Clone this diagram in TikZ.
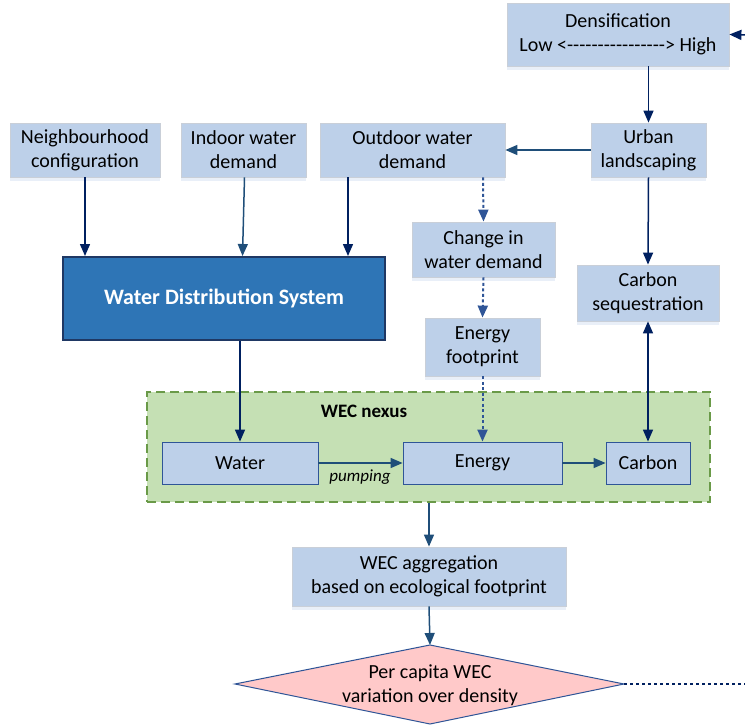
\documentclass[tikz,border=0pt]{standalone}
\usepackage{fontspec}
\setmainfont{Carlito}
\usetikzlibrary{arrows.meta,shadows}
\definecolor{boxfill}{HTML}{BDD0E9}
\definecolor{boxline}{HTML}{C9CFD8}
\definecolor{shade}{HTML}{E9EFF8}
\definecolor{wdsfill}{HTML}{2E75B6}
\definecolor{wdsline}{HTML}{1F3864}
\definecolor{navy}{HTML}{002060}
\definecolor{steel}{HTML}{1F4E79}
\definecolor{midblue}{HTML}{2F5597}
\definecolor{nexusfill}{HTML}{C5E0B4}
\definecolor{nexusline}{HTML}{6A9A48}
\definecolor{pinkfill}{HTML}{FFC9C9}
\newcommand{\dashrun}{-{}-{}-{}-{}-{}-{}-{}-{}-{}-{}-{}-{}-{}-{}-{}-{}}
\begin{document}
\begin{tikzpicture}[x=1pt,y=-1pt,
  font=\fontsize{20}{24}\selectfont,
  lbox/.style={draw=boxline,line width=0.8pt,fill=boxfill,align=center,inner sep=0pt,
    drop shadow={shadow xshift=0pt,shadow yshift=-4pt,fill=shade,opacity=1}},
  nbox/.style={draw=midblue,line width=0.8pt,fill=boxfill,align=center,inner sep=0pt},
  tip/.style={-{Triangle[length=12pt,width=10pt]}},
  solidnavy/.style={tip,draw=navy,line width=1.5pt},
  solidsteel/.style={tip,draw=steel,line width=1.5pt},
  dotblue/.style={tip,draw=midblue,line width=2pt,dash pattern=on 3pt off 2.5pt}]
\useasboundingbox (0,0) rectangle (745,725);

% top row of factors
\node[lbox,minimum width=222pt,minimum height=63pt] (dens) at (618,34.5)
  {Densification\\Low <\dashrun> High};
\node[lbox,minimum width=115pt,minimum height=54pt] (urban) at (648.5,150)
  {Urban\\landscaping};
\node[lbox,minimum width=185pt,minimum height=54pt] (outdoor) at (412.5,150)
  {Outdoor water\\demand};
\node[lbox,minimum width=125pt,minimum height=54pt] (indoor) at (243.5,150)
  {Indoor water\\demand};
\node[lbox,minimum width=150pt,minimum height=54pt] (neigh) at (85,150)
  {Neighbourhood\\configuration};

% water distribution system
\node[draw=wdsline,line width=2pt,fill=wdsfill,text=white,inner sep=0pt,
  minimum width=322pt,minimum height=83pt,font=\fontsize{22}{26}\selectfont\bfseries]
  (wds) at (224,298.5) {Water Distribution System};

% intermediate effects
\node[lbox,minimum width=143pt,minimum height=55pt] (change) at (483.5,249.5)
  {Change in\\water demand};
\node[lbox,minimum width=115pt,minimum height=58pt] (efoot) at (482.5,347)
  {Energy\\footprint};
\node[lbox,minimum width=142pt,minimum height=56pt] (cseq) at (648,293)
  {Carbon\\sequestration};

% WEC nexus group
\node[draw=nexusline,line width=1.2pt,dash pattern=on 9pt off 5pt,fill=nexusfill,
  minimum width=563pt,minimum height=110pt,inner sep=0pt] (nexus) at (428.5,447) {};
\node[font=\fontsize{19}{22}\selectfont\bfseries,inner sep=0pt] (nexuslbl) at (364,411) {WEC nexus};
\node[nbox,minimum width=156pt,minimum height=42pt] (water) at (240,463) {Water};
\node[nbox,minimum width=159pt,minimum height=42pt] (energy) at (482.5,463) {Energy};
\node[nbox,minimum width=84pt,minimum height=42pt] (carbon) at (648,463) {Carbon};
\node[font=\fontsize{17}{20}\selectfont\itshape,inner sep=0pt] (pump) at (360,477) {pumping};

% aggregation and outcome
\node[lbox,minimum width=274pt,minimum height=59pt] (agg) at (429,576.5)
  {WEC aggregation\\based on ecological footprint};
\coordinate (dtop) at (430,645);
\coordinate (dleft) at (235,684);
\coordinate (dright) at (624,684);
\coordinate (dbot) at (430,724);
\draw[draw=midblue,line width=1pt,fill=pinkfill] (dtop) -- (dright) -- (dbot) -- (dleft) -- cycle;
\node[align=center,inner sep=0pt] (outcome) at (430,685) {Per capita WEC\\variation over density};
\coordinate (outend) at (745,684);
\draw[navy,line width=1.5pt,dash pattern=on 3pt off 3pt] (dright) -- (outend);

% feedback entering densification from the right
\coordinate (fbstart) at (745,35);
\draw[solidnavy] (fbstart) -- (dens.east);

% connectors
\draw[solidnavy] (urban.north |- dens.south) -- (urban.north);
\draw[solidsteel] (urban.west) -- (outdoor.east);
\draw[solidnavy] (urban.south) -- (cseq.north);
\draw[solidnavy,{Triangle[length=12pt,width=10pt]}-{Triangle[length=12pt,width=10pt]}] (carbon.north) -- (cseq.south);
\draw[solidnavy] (neigh.south) -- (neigh.south |- wds.north);
\draw[solidsteel] ([xshift=1pt]indoor.south) -- ([xshift=-1pt]indoor.south |- wds.north);
\draw[solidnavy] ([xshift=-64.5pt]outdoor.south) -- ([xshift=-64.5pt]outdoor.south |- wds.north);
\draw[dotblue] ([xshift=70.5pt]outdoor.south) -- (change.north);
\draw[dotblue] (change.south) -- (efoot.north);
\draw[dotblue] (efoot.south) -- (energy.north);
\draw[solidnavy] ([xshift=16pt]wds.south) -- (water.north);
\draw[solidsteel] (water.east) -- (energy.west);
\draw[solidsteel] (energy.east) -- (carbon.west);
\draw[solidsteel] (agg.north |- nexus.south) -- (agg.north);
\draw[solidsteel] (agg.south) -- (dtop);
\end{tikzpicture}
\end{document}
